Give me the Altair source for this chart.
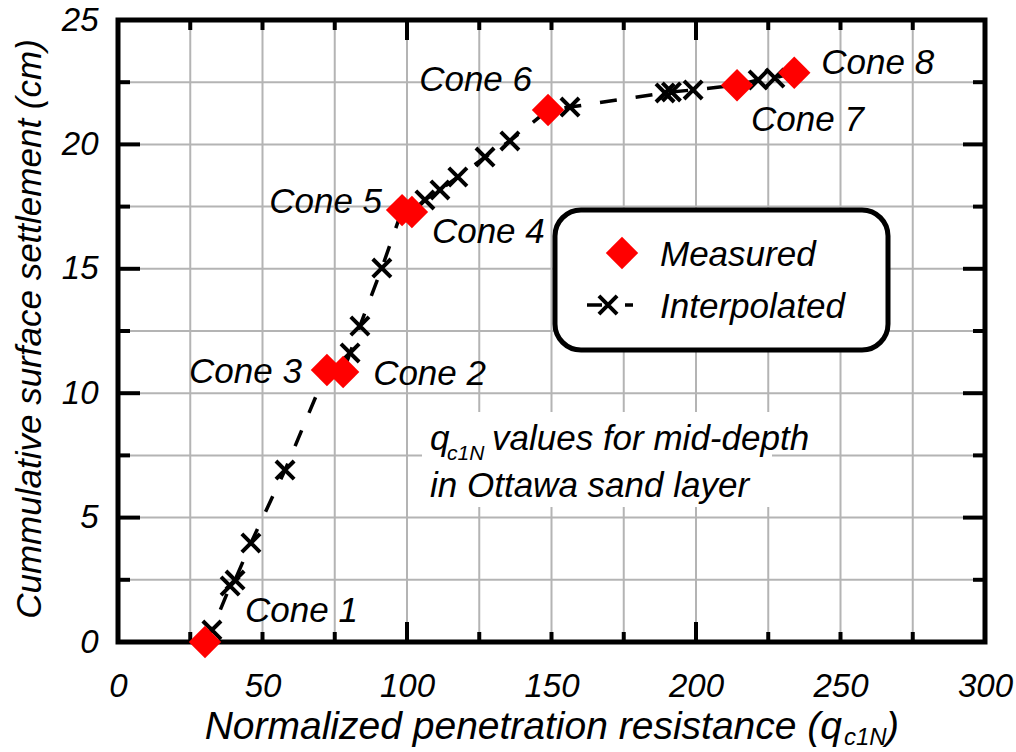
import altair as alt
import pandas as pd

# ---- data -------------------------------------------------------------
CONES = ["Cone 1", "Cone 2", "Cone 3", "Cone 4", "Cone 5", "Cone 6", "Cone 7", "Cone 8"]
CONE_QC1N = [30.1, 77.9, 72.3, 101.7, 98.3, 148.8, 214.2, 234.0]
CONE_SETTLEMENT = [0.0, 10.85, 10.93, 17.28, 17.36, 21.38, 22.38, 22.88]

INTERP_QC1N = [32.5, 38.8, 40.5, 46.0, 57.8, 80.3, 83.7, 91.3, 106.2, 111.4,
               117.6, 127.0, 135.6, 156.4, 189.3, 191.5, 199.0, 221.5, 227.3]
INTERP_SETTLEMENT = [0.48, 2.25, 2.49, 3.98, 6.91, 11.62, 12.70, 15.03, 17.77, 18.17,
                     18.69, 19.49, 20.14, 21.50, 22.07, 22.11, 22.19, 22.59, 22.67]

X_LABELS = [0, 50, 100, 150, 200, 250, 300]
Y_LABELS = [0, 5, 10, 15, 20, 25]
X_GRID = [25, 50, 75, 100, 125, 150, 175, 200, 225, 250, 275]
Y_GRID = [2.5, 5, 7.5, 10, 12.5, 15, 17.5, 20, 22.5]
X_MINOR_TICKS = [25, 50, 75, 125, 150, 175, 225, 250, 275]
X_MAJOR_TICKS = [100, 200]
Y_MINOR_TICKS = [2.5, 7.5, 12.5, 17.5, 22.5]
Y_MAJOR_TICKS = [5, 10, 15, 20]

# ---- layout / style -----------------------------------------------------
W, H = 867, 622
FONT = "Liberation Sans"
FS = 35
CROSS = "M-1,-1L1,1M-1,1L1,-1"
DIAMOND_SIZE = 1050
CROSS_SIZE = 330

# label placement around each cone: (dx, dy, align)
LABEL_PLACE = {
    "Cone 1": (40, -31, "left"),
    "Cone 2": (30, 2, "left"),
    "Cone 3": (-25, 2, "right"),
    "Cone 4": (20, 20, "left"),
    "Cone 5": (-20, -8, "right"),
    "Cone 6": (-16, -30, "right"),
    "Cone 7": (14, 35, "left"),
    "Cone 8": (27, -10, "left"),
}

measured = pd.DataFrame({"cone": CONES, "q": CONE_QC1N, "s": CONE_SETTLEMENT})
interp = pd.DataFrame({"q": INTERP_QC1N, "s": INTERP_SETTLEMENT})
all_pts = pd.concat([measured[["q", "s"]], interp]).sort_values("q").reset_index(drop=True)

xs = alt.Scale(domain=[0, 300], nice=False, zero=False)
ys = alt.Scale(domain=[0, 25], nice=False, zero=False)

X_AXIS = alt.Axis(values=X_LABELS, grid=False, ticks=False, domain=False, labelFlush=False,
                  labelPadding=28, labelFont=FONT, labelFontStyle="italic",
                  labelFontSize=33, labelColor="black", title=None)
Y_AXIS = alt.Axis(values=Y_LABELS, grid=False, ticks=False, domain=False,
                  labelPadding=20, labelFont=FONT, labelFontStyle="italic",
                  labelFontSize=33, labelColor="black", title=None)


def X(field="q"):
    return alt.X(f"{field}:Q", scale=xs, axis=X_AXIS)


def Y(field="s"):
    return alt.Y(f"{field}:Q", scale=ys, axis=Y_AXIS)


one = pd.DataFrame({"k": [0]})

# grid lines
xgrid = alt.Chart(pd.DataFrame({"v": X_GRID})).mark_rule(color="#b4b4b4", strokeWidth=2).encode(
    x=X("v"), y=alt.value(0), y2=alt.value(H))
ygrid = alt.Chart(pd.DataFrame({"v": Y_GRID})).mark_rule(color="#b4b4b4", strokeWidth=2).encode(
    y=Y("v"), x=alt.value(0), x2=alt.value(W))


# inward tick marks on all four sides
def xticks(vals, length):
    base = alt.Chart(pd.DataFrame({"v": vals})).mark_rule(color="black", strokeWidth=4)
    return (base.encode(x=X("v"), y=alt.value(H), y2=alt.value(H - length)) +
            base.encode(x=X("v"), y=alt.value(0), y2=alt.value(length)))


def yticks(vals, length):
    base = alt.Chart(pd.DataFrame({"v": vals})).mark_rule(color="black", strokeWidth=4)
    return (base.encode(y=Y("v"), x=alt.value(0), x2=alt.value(length)) +
            base.encode(y=Y("v"), x=alt.value(W), x2=alt.value(W - length)))


ticks = xticks(X_MINOR_TICKS, 10) + xticks(X_MAJOR_TICKS, 20) + yticks(Y_MINOR_TICKS, 12) + yticks(Y_MAJOR_TICKS, 22)

# note box
note_box = alt.Chart(one).mark_rect(fill="white").encode(
    x=alt.value(304), x2=alt.value(654), y=alt.value(392), y2=alt.value(487))

txt = dict(font=FONT, fontStyle="italic", color="black", baseline="alphabetic", align="left")
note = (
    alt.Chart(one).mark_text(text="q", fontSize=FS, **txt).encode(x=alt.value(312), y=alt.value(430)) +
    alt.Chart(one).mark_text(text="c1N", fontSize=21, **txt).encode(x=alt.value(329), y=alt.value(440)) +
    alt.Chart(one).mark_text(text="values for mid-depth", fontSize=FS, **txt).encode(x=alt.value(374), y=alt.value(430)) +
    alt.Chart(one).mark_text(text="in Ottawa sand layer", fontSize=FS, **txt).encode(x=alt.value(312), y=alt.value(477))
)

# data series
line = alt.Chart(all_pts).mark_line(color="black", strokeWidth=3.5, strokeDash=[17, 19]).encode(
    x=X(), y=Y(), order="q:Q")
crosses = alt.Chart(interp).mark_point(shape=CROSS, filled=False, color="black", strokeWidth=4,
                                       size=CROSS_SIZE, opacity=1).encode(x=X(), y=Y())
diamonds = alt.Chart(measured).mark_point(shape="diamond", filled=True, color="#ff0000",
                                          size=DIAMOND_SIZE, opacity=1).encode(x=X(), y=Y())

labels = None
for name in CONES:
    dx, dy, al = LABEL_PLACE[name]
    lab = alt.Chart(measured).transform_filter(alt.datum.cone == name).mark_text(
        dx=dx, dy=dy, align=al, baseline="middle", font=FONT, fontStyle="italic",
        fontSize=FS, color="black").encode(x=X(), y=Y(), text="cone:N")
    labels = lab if labels is None else labels + lab

# legend
legend = (
    alt.Chart(one).mark_rect(fill="white", stroke="black", strokeWidth=5, cornerRadius=26).encode(
        x=alt.value(437), x2=alt.value(770), y=alt.value(190), y2=alt.value(330)) +
    alt.Chart(one).mark_point(shape="diamond", filled=True, color="#ff0000", size=DIAMOND_SIZE, opacity=1).encode(
        x=alt.value(504), y=alt.value(233)) +
    alt.Chart(one).mark_rule(color="black", strokeWidth=3.5, strokeDash=[15, 23]).encode(
        x=alt.value(469), x2=alt.value(515), y=alt.value(285)) +
    alt.Chart(one).mark_point(shape=CROSS, filled=False, color="black", strokeWidth=4, size=CROSS_SIZE, opacity=1).encode(
        x=alt.value(490), y=alt.value(285)) +
    alt.Chart(one).mark_text(text="Measured", fontSize=FS, font=FONT, fontStyle="italic", color="black",
                             align="left", baseline="middle").encode(x=alt.value(542), y=alt.value(235)) +
    alt.Chart(one).mark_text(text="Interpolated", fontSize=FS, font=FONT, fontStyle="italic", color="black",
                             align="left", baseline="middle").encode(x=alt.value(542), y=alt.value(287))
)

# axis titles
titles = (
    alt.Chart(one).mark_text(text="Normalized penetration resistance (q", fontSize=39, font=FONT,
                             fontStyle="italic", color="black", align="right", baseline="alphabetic").encode(
        x=alt.value(724), y=alt.value(719)) +
    alt.Chart(one).mark_text(text="c1N", fontSize=24, **txt).encode(x=alt.value(726), y=alt.value(725)) +
    alt.Chart(one).mark_text(text=")", fontSize=39, **txt).encode(x=alt.value(768), y=alt.value(719)) +
    alt.Chart(one).mark_text(text="Cummulative surface settlement (cm)", fontSize=FS, font=FONT,
                             fontStyle="italic", color="black", align="center", baseline="alphabetic",
                             angle=270).encode(x=alt.value(-77), y=alt.value(309))
)

chart = alt.layer(
    xgrid, ygrid, note_box, ticks, line, crosses, diamonds, labels, note, legend, titles
).properties(
    width=W, height=H,
    autosize=alt.AutoSizeParams(type="none"),
    padding={"left": 118, "top": 20, "right": 31, "bottom": 110},
    background="white",
).configure_view(stroke="black", strokeWidth=5)

chart.save("out.html", embed_options={"renderer": "svg", "actions": False})
